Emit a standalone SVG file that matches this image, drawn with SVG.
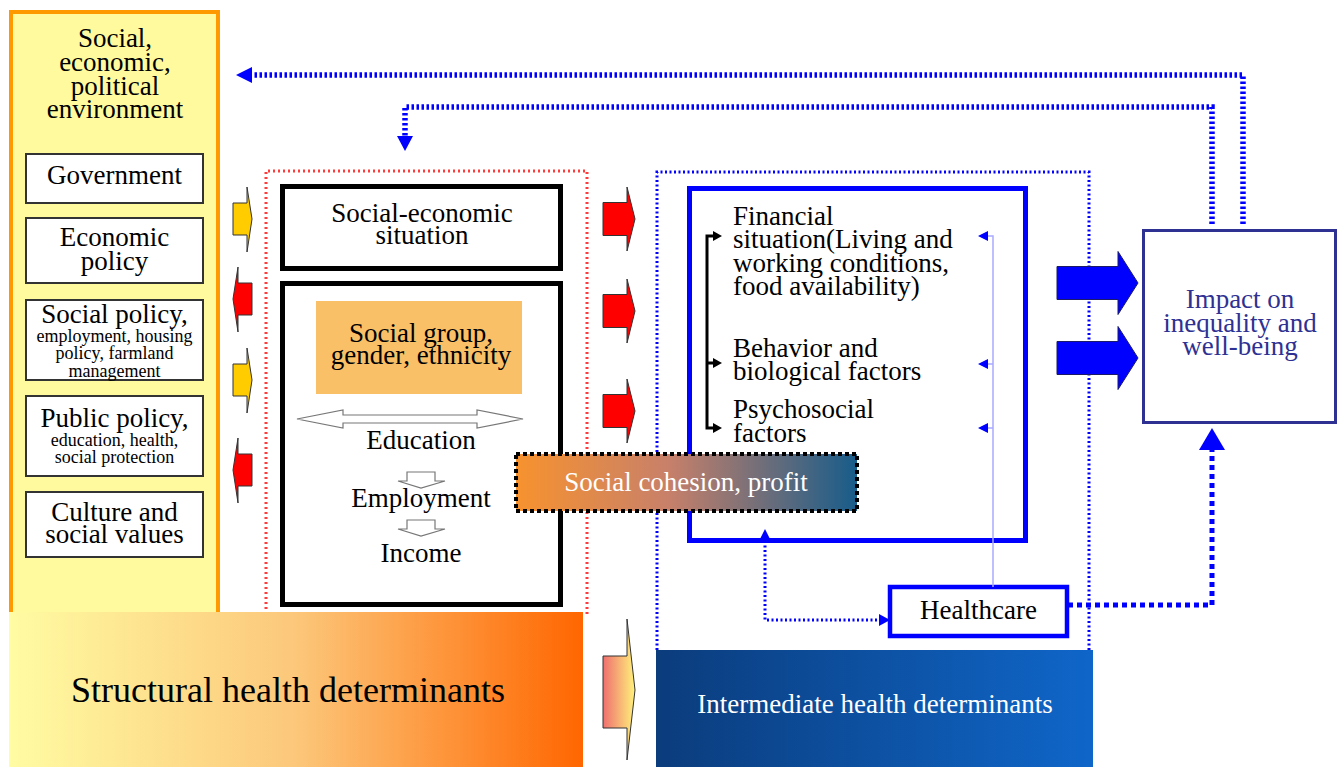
<svg xmlns="http://www.w3.org/2000/svg" width="1340" height="767" viewBox="0 0 1340 767">
<defs>
  <linearGradient id="gStruct" x1="0" y1="0" x2="1" y2="0">
    <stop offset="0" stop-color="#FFFCA3"/>
    <stop offset="0.5" stop-color="#FCC77A"/>
    <stop offset="1" stop-color="#FF6600"/>
  </linearGradient>
  <linearGradient id="gInter" x1="0" y1="0" x2="1" y2="0">
    <stop offset="0" stop-color="#0B3C7C"/>
    <stop offset="1" stop-color="#0F66C9"/>
  </linearGradient>
  <linearGradient id="gCoh" x1="0" y1="0" x2="1" y2="0">
    <stop offset="0" stop-color="#F7922E"/>
    <stop offset="0.45" stop-color="#C7806A"/>
    <stop offset="1" stop-color="#175C8A"/>
  </linearGradient>
  <linearGradient id="gArrow" x1="0" y1="0" x2="1" y2="0">
    <stop offset="0" stop-color="#EF6F6F"/>
    <stop offset="1" stop-color="#FFF27A"/>
  </linearGradient>
  <path id="redArr" d="M0,-16.5 H24 V-32 L32,0 L24,32 V16.5 H0 Z"/>
  <path id="smR" d="M0,-16 H14 V-32 L19,0 L14,33 V16 H0 Z"/>
  <path id="smL" d="M19,-16 H5 V-32 L0,0 L5,33 V16 H19 Z"/>
  <path id="blueArr" d="M0,-16.5 H61 V-31.5 L81,0 L61,31.5 V16.5 H0 Z"/>
  <path id="downArr" d="M9,0 H37 V9 H47 L23,16 L0,9 H9 Z"/>
</defs>
<style>
  text { font-family: "Liberation Serif", "Times New Roman", serif; font-size: 27px; fill: #000; }
  .c { text-anchor: middle; }
  .sm { font-size: 18px; }
  .w { fill: #ffffff; }
  .navy { fill: #2E3192; }
  .big { font-size: 36px; }
  .box { fill: #fff; stroke: #333; stroke-width: 2; }
  .thick { fill: #fff; stroke: #000; stroke-width: 5; }
  .dotB { fill: none; stroke: #0000FF; stroke-width: 5.5; stroke-dasharray: 2.5 2.5; }
  .dotThin { fill: none; stroke: #0000FF; stroke-width: 3; stroke-dasharray: 2 2.5; }
  .dotR { fill: none; stroke: #FF3B3B; stroke-width: 3; stroke-dasharray: 2 3; }
  .blueHead { fill: #0000FF; }
  .red { fill: #FF0000; stroke: #333; stroke-width: 1; }
  .yel { fill: #FFCC00; stroke: #333; stroke-width: 1; }
  .bl { fill: #0000FF; stroke: #1A1A66; stroke-width: 1; }
  .hollow { fill: #fff; stroke: #777; stroke-width: 1.2; }
</style>

<rect width="1340" height="767" fill="#fff"/>

<!-- Left column -->
<g id="environment">
  <rect x="11" y="12" width="207" height="602" fill="#FFFA9E" stroke="#FF9900" stroke-width="4"/>
  <text class="c" x="115" y="47">Social,<tspan x="115" dy="24">economic,</tspan><tspan x="115" dy="24">political</tspan><tspan x="115" dy="23">environment</tspan></text>
</g>
<g id="government">
  <rect class="box" x="26" y="154" width="177" height="49"/>
  <text class="c" x="114.5" y="184">Government</text>
</g>
<g id="economic-policy">
  <rect class="box" x="26" y="218" width="177" height="65"/>
  <text class="c" x="114.5" y="246">Economic<tspan x="114.5" dy="24">policy</tspan></text>
</g>
<g id="social-policy">
  <rect class="box" x="26" y="300" width="177" height="80"/>
  <text class="c" x="114.5" y="323">Social policy,<tspan class="sm" x="114.5" dy="19">employment, housing</tspan><tspan class="sm" x="114.5" dy="17">policy, farmland</tspan><tspan class="sm" x="114.5" dy="18">management</tspan></text>
</g>
<g id="public-policy">
  <rect class="box" x="26" y="396" width="177" height="80"/>
  <text class="c" x="114.5" y="427">Public policy,<tspan class="sm" x="114.5" dy="19">education, health,</tspan><tspan class="sm" x="114.5" dy="17">social protection</tspan></text>
</g>
<g id="culture">
  <rect class="box" x="26" y="492" width="177" height="65"/>
  <text class="c" x="114.5" y="521">Culture and<tspan x="114.5" dy="22">social values</tspan></text>
</g>

<!-- Middle: structural group -->
<g id="structural-group">
  <path class="dotR" d="M266,614 V171 H587 V614"/>
</g>
<g id="socioeconomic-situation">
  <rect class="thick" x="282.5" y="186.5" width="278" height="82"/>
  <text class="c" x="422" y="222">Social-economic<tspan x="422" dy="22">situation</tspan></text>
</g>
<g id="social-position">
  <rect class="thick" x="282.5" y="283.5" width="278" height="321"/>
  <rect x="316" y="301" width="206" height="93" fill="#F9C068"/>
  <text class="c" x="421" y="342">Social group,<tspan x="421" dy="22">gender, ethnicity</tspan></text>
  <path class="hollow" d="M297,419 L343,410 V415 H477 V410 L523,419 L477,428 V423 H343 V428 Z"/>
  <text class="c" x="421" y="449">Education</text>
  <use href="#downArr" class="hollow" x="398" y="472"/>
  <text class="c" x="421" y="507">Employment</text>
  <use href="#downArr" class="hollow" x="398" y="520"/>
  <text class="c" x="421" y="562">Income</text>
</g>

<!-- Right: intermediate group -->
<g id="intermediate-group">
  <path class="dotThin" d="M657,650 V172 H1089 V650"/>
</g>
<g id="intermediate-factors">
  <rect x="689.5" y="188.5" width="336" height="352" fill="none" stroke="#0000FF" stroke-width="5"/>
  <text x="733" y="225">Financial<tspan x="733" dy="23">situation(Living and</tspan><tspan x="733" dy="24">working conditions,</tspan><tspan x="733" dy="23">food availability)</tspan></text>
  <text x="733" y="357">Behavior and<tspan x="733" dy="23">biological factors</tspan></text>
  <text x="733" y="418">Psychosocial<tspan x="733" dy="24">factors</tspan></text>
</g>
<g id="healthcare">
  <rect x="890" y="587" width="177" height="49" fill="#fff" stroke="#0000FF" stroke-width="4.5"/>
  <text class="c" x="978.5" y="619">Healthcare</text>
</g>
<g id="impact">
  <rect x="1143.5" y="230.5" width="192" height="192" fill="#fff" stroke="#2E3192" stroke-width="3"/>
  <text class="c navy" x="1240" y="308">Impact on<tspan x="1240" dy="24">inequality and</tspan><tspan x="1240" dy="23">well-being</tspan></text>
</g>

<!-- Connectors -->
<g id="connectors">
  <path class="dotB" d="M1243,224 V75 H252"/>
  <polygon class="blueHead" points="236,75 252,67 252,83"/>
  <path class="dotB" d="M1212,224 V107 H405 V138"/>
  <polygon class="blueHead" points="397,136 413,136 405,151"/>
  <path fill="none" stroke="#0000FF" stroke-width="5" stroke-dasharray="5 4" d="M1068,605 H1212 V450"/>
  <polygon class="blueHead" points="1199,450 1225,450 1212,428"/>
  <path class="dotThin" d="M765,541 V620 H880"/>
  <polygon class="blueHead" points="765,529 759,541 771,541"/>
  <polygon class="blueHead" points="890,620 879,614 879,626"/>
  <path fill="none" stroke="#000" stroke-width="3" d="M714,236 H707 V428 H714 M707,363 H714"/>
  <polygon points="722,236 713,231 713,241" fill="#000"/>
  <polygon points="722,363 713,358 713,368" fill="#000"/>
  <polygon points="722,428 713,423 713,433" fill="#000"/>
  <path fill="none" stroke="#AAAAFF" stroke-width="1.5" d="M993,587 V236 H986 M993,364 H986 M993,428 H986"/>
  <polygon class="blueHead" points="978,236 988,231 988,241"/>
  <polygon class="blueHead" points="978,364 988,359 988,369"/>
  <polygon class="blueHead" points="978,428 988,423 988,433"/>
  <use href="#smR" class="yel" x="233" y="219"/>
  <use href="#smL" class="red" x="233" y="299"/>
  <use href="#smR" class="yel" x="233" y="380"/>
  <use href="#smL" class="red" x="233" y="470"/>
  <use href="#redArr" class="red" x="603" y="219"/>
  <use href="#redArr" class="red" x="603" y="311"/>
  <use href="#redArr" class="red" x="603" y="411"/>
  <use href="#blueArr" class="bl" x="1057" y="283"/>
  <use href="#blueArr" class="bl" x="1057" y="358"/>
  <path d="M603,656 H627 V619 L635,690 L627,760 V728 H603 Z" fill="url(#gArrow)" stroke="#333" stroke-width="1"/>
</g>

<g id="social-cohesion">
  <rect x="516" y="454" width="341" height="57" fill="url(#gCoh)" stroke="#000" stroke-width="4" stroke-dasharray="4 3"/>
  <text class="c w" x="686" y="491">Social cohesion, profit</text>
</g>

<g id="structural-determinants">
  <rect x="9" y="612" width="574" height="155" fill="url(#gStruct)"/>
  <text class="c big" x="288" y="702">Structural health determinants</text>
</g>
<g id="intermediate-determinants">
  <rect x="656" y="650" width="437" height="117" fill="url(#gInter)"/>
  <text class="c w" x="875" y="713">Intermediate health determinants</text>
</g>
</svg>
